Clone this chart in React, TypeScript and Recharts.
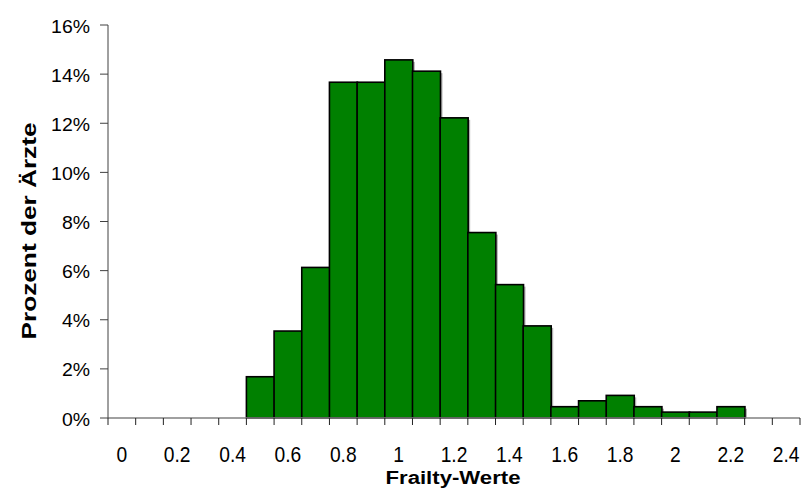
import React from "react";
import { BarChart, Bar, XAxis, YAxis } from "recharts";

// Frailty-Klassen (Kategorien) und Anteil der Ärzte in Prozent
const frailtyLabels = [
    "0", "0.1", "0.2", "0.3", "0.4", "0.5", "0.6", "0.7", "0.8", "0.9",
    "1", "1.1", "1.2", "1.3", "1.4", "1.5", "1.6", "1.7", "1.8", "1.9",
    "2", "2.1", "2.2", "2.3", "2.4",
];
const prozentAerzte = [
    0, 0, 0, 0, 0, 1.68, 3.54, 6.13, 13.67, 13.67,
    14.58, 14.12, 12.22, 7.55, 5.43, 3.75, 0.46, 0.7, 0.92, 0.46,
    0.24, 0.24, 0.46, 0, 0,
];
const yTicks = [0, 2, 4, 6, 8, 10, 12, 14, 16];

const data = frailtyLabels.map((label, i) => ({
    label,
    prozent: prozentAerzte[i],
}));

const W = 801;
const H = 489;
const LEFT = 108;
const RIGHT = 1;
const TOP = 25;
const BOTTOM_AXIS = 71;
const BAND = (W - LEFT - RIGHT) / frailtyLabels.length;
const FONT = "'Liberation Sans', Arial, sans-serif";

const XTick = (props: any) => {
    const { x, y, payload, index } = props;
    const i = payload?.index ?? index;
    const last = i === frailtyLabels.length - 1;
    return (
        <g>
            <line x1={x - BAND / 2} x2={x - BAND / 2} y1={y} y2={y + 7} stroke="#222" strokeWidth={1} />
            {last && (
                <line x1={x + BAND / 2} x2={x + BAND / 2} y1={y} y2={y + 7} stroke="#222" strokeWidth={1} />
            )}
            {i % 2 === 0 && (
                <text
                    transform={`translate(${x}, ${y + 44}) scale(1.04, 1.22)`}
                    textAnchor="middle"
                    fontSize={18.5}
                    fontFamily={FONT}
                    fill="#000"
                >
                    {payload.value}
                </text>
            )}
        </g>
    );
};

const YTick = (props: any) => {
    const { y, payload } = props;
    return (
        <text
            transform={`translate(90, ${y + 7.5}) scale(1.08, 1)`}
            textAnchor="end"
            fontSize={18}
            fontFamily={FONT}
            fill="#000"
        >
            {`${payload.value}%`}
        </text>
    );
};

const ShadowBar = (props: any) => {
    const { x, y, width, height } = props;
    if (!height || height <= 0) return null;
    return (
        <g>
            <rect x={x + 2} y={y + 2} width={width} height={height - 2} fill="#b0b0b0" />
            <rect x={x} y={y} width={width} height={height} fill="#008000" stroke="#000" strokeWidth={1.6} />
        </g>
    );
};

const App: React.FC = () => {
    return (
        <div style={{ position: "absolute", left: 0, top: 0, width: W, height: H, background: "#fff" }}>
            <BarChart
                width={W}
                height={H}
                data={data}
                margin={{ top: TOP, right: RIGHT, left: 0, bottom: 0 }}
                barCategoryGap={0}
                barGap={0}
            >
                <XAxis
                    dataKey="label"
                    interval={0}
                    height={BOTTOM_AXIS}
                    tickLine={false}
                    tickSize={0}
                    tickMargin={0}
                    axisLine={{ stroke: "#808080", strokeWidth: 1.5 }}
                    tick={<XTick />}
                />
                <YAxis
                    width={LEFT}
                    domain={[0, 16]}
                    ticks={yTicks}
                    interval={0}
                    tickSize={8}
                    axisLine={{ stroke: "#404040", strokeWidth: 1 }}
                    tickLine={{ stroke: "#404040", strokeWidth: 1 }}
                    tick={<YTick />}
                />
                <Bar dataKey="prozent" shape={<ShadowBar />} isAnimationActive={false} />
                <text
                    x={453}
                    y={484}
                    textAnchor="middle"
                    fontSize={18}
                    fontWeight="bold"
                    fontFamily={FONT}
                    textLength={135}
                    lengthAdjust="spacingAndGlyphs"
                >
                    Frailty-Werte
                </text>
                <text
                    transform="translate(36, 231) rotate(-90)"
                    textAnchor="middle"
                    fontSize={21}
                    fontWeight="bold"
                    fontFamily={FONT}
                    textLength={217}
                    lengthAdjust="spacingAndGlyphs"
                >
                    Prozent der Ärzte
                </text>
            </BarChart>
        </div>
    );
};

export default App;
